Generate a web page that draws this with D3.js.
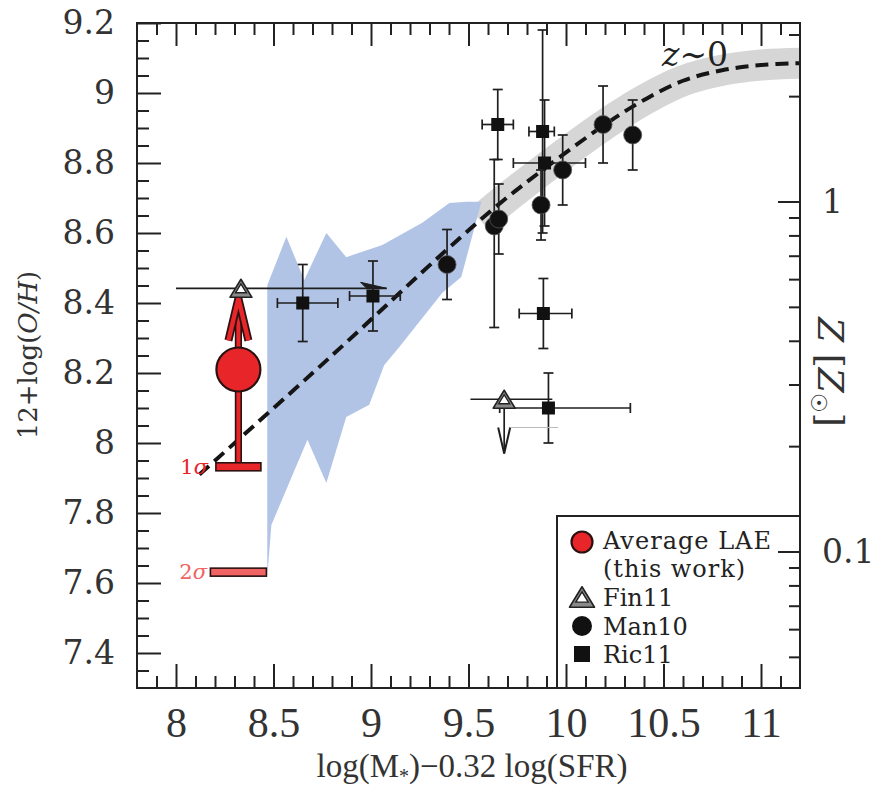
<!DOCTYPE html>
<html><head><meta charset="utf-8">
<script src="https://cdn.jsdelivr.net/npm/d3@7"></script>
<style>body{margin:0;background:#fff}</style>
</head><body>
<script>
// ---------------- data ----------------
const xMajorTicks = [8, 8.5, 9, 9.5, 10, 10.5, 11];
const xTickLabels = ["8", "8.5", "9", "9.5", "10", "10.5", "11"];
const yMajorTicks = [7.4, 7.6, 7.8, 8, 8.2, 8.4, 8.6, 8.8, 9, 9.2];
const yTickLabels = ["7.4", "7.6", "7.8", "8", "8.2", "8.4", "8.6", "8.8", "9", "9.2"];
const zMajorTicks = [0.1, 1];
const zTickLabels = ["0.1", "1"];
const zMinorTicks = [0.05, 0.06, 0.07, 0.08, 0.09, 0.2, 0.3, 0.4, 0.5, 0.6, 0.7, 0.8, 0.9, 2, 3];
const solarOH = 8.69;

// z~0 relation (dashed) and its scatter band (grey)
const z0Curve = [[8.12, 7.91], [8.79, 8.245], [9.39, 8.553], [9.64, 8.675], [9.88, 8.78],
                 [10.2, 8.91], [10.4, 8.98], [10.6, 9.035], [10.8, 9.065], [11.0, 9.08], [11.2, 9.085]];
const z0Band = [[9.56, 8.636], [9.64, 8.675], [9.88, 8.78], [10.2, 8.91], [10.4, 8.98],
                [10.6, 9.035], [10.8, 9.065], [11.0, 9.08], [11.2, 9.085]];
// blue shaded region
const blueRegion = [[8.468, 7.617], [8.468, 8.451], [8.566, 8.589], [8.658, 8.466], [8.771, 8.600],
  [8.873, 8.531], [9.058, 8.566], [9.263, 8.629], [9.402, 8.686], [9.489, 8.689], [9.566, 8.689],
  [9.504, 8.560], [9.463, 8.474], [9.366, 8.429], [9.145, 8.274], [9.068, 8.223], [8.991, 8.109],
  [8.873, 8.074], [8.771, 7.886], [8.674, 8.009], [8.489, 7.766]];

// Man10: [x, y, yLow, yHigh]
const man10 = [[9.39, 8.51, 8.41, 8.61], [9.632, 8.62, 8.33, 8.81], [9.655, 8.64, 8.54, 8.74],
  [9.872, 8.68, 8.58, 8.78], [9.983, 8.78, 8.68, 8.88], [10.19, 8.91, 8.80, 9.02], [10.342, 8.88, 8.78, 8.98]];
// Ric11: [x, y, xLow, xHigh, yLow, yHigh]
const ric11 = [[8.65, 8.40, 8.52, 8.83, 8.29, 8.51], [9.01, 8.42, 8.89, 9.15, 8.32, 8.52],
  [9.65, 8.91, 9.57, 9.73, 8.81, 9.01], [9.88, 8.89, 9.81, 9.94, 8.60, 9.18],
  [9.89, 8.80, 9.73, 10.10, 8.62, 8.98], [9.884, 8.37, 9.76, 10.03, 8.27, 8.47],
  [9.91, 8.10, 9.66, 10.33, 8.00, 8.20]];
// Fin11: [x, y, xLow, xHigh]
const fin11 = [[8.333, 8.442, 8.00, 9.08], [9.683, 8.125, 9.51, 9.93]];
const fin11UpperLimitTo = [null, 7.97];   // downward arrow end
const fin11RightArrow = [true, false];
// Average LAE (this work)
const laeX = 8.32, laeY = 8.21, laeUpper = 8.413, laeSigma1 = 7.932, laeSigma2 = 7.631;

// ---------------- setup ----------------
const W = 874, H = 789;
const L = 137, R = 800, T = 23, B = 688;
const x = d3.scaleLinear([7.8, 11.2], [L, R]);
const y = d3.scaleLinear([7.3, 9.2], [B, T]);
const z = d3.scaleLog([Math.pow(10, 7.3 - solarOH), Math.pow(10, 9.2 - solarOH)], [B, T]);

const svg = d3.select("body").append("svg").attr("width", W).attr("height", H)
  .style("font-family", "'DejaVu Serif', serif");
svg.append("defs").append("clipPath").attr("id", "clip")
  .append("rect").attr("x", L).attr("y", T).attr("width", R - L).attr("height", B - T);
const plot = svg.append("g").attr("clip-path", "url(#clip)");

const line = d3.line().x(d => x(d[0])).y(d => y(d[1]));
const curve = d3.line().x(d => x(d[0])).y(d => y(d[1])).curve(d3.curveCatmullRom.alpha(0.5));

// grey band
plot.append("path").attr("d", curve(z0Band)).attr("fill", "none")
  .attr("stroke", "#d6d6d6").attr("stroke-width", 31).attr("stroke-linecap", "butt");
// blue region
plot.append("path").attr("d", line(blueRegion) + "Z").attr("fill", "#b1c4e6");
// dashed relation
plot.append("path").attr("d", curve(z0Curve)).attr("fill", "none")
  .attr("stroke", "#151515").attr("stroke-width", 4).attr("stroke-dasharray", "13,7");

const ink = "#1e1e1e";
const eb = plot.append("g").attr("stroke", ink).attr("stroke-width", 1.7).attr("fill", "none");
const cap = 5;
function vbar(xx, lo, hi) {
  const px = x(xx);
  eb.append("line").attr("x1", px).attr("x2", px).attr("y1", y(lo)).attr("y2", y(hi));
  eb.append("line").attr("x1", px - cap).attr("x2", px + cap).attr("y1", y(lo)).attr("y2", y(lo));
  eb.append("line").attr("x1", px - cap).attr("x2", px + cap).attr("y1", y(hi)).attr("y2", y(hi));
}
function hbar(yy, lo, hi, caps = true) {
  const py = y(yy);
  eb.append("line").attr("x1", x(lo)).attr("x2", x(hi)).attr("y1", py).attr("y2", py);
  if (caps) {
    eb.append("line").attr("x1", x(lo)).attr("x2", x(lo)).attr("y1", py - cap).attr("y2", py + cap);
    eb.append("line").attr("x1", x(hi)).attr("x2", x(hi)).attr("y1", py - cap).attr("y2", py + cap);
  }
}
man10.forEach(d => vbar(d[0], d[2], d[3]));
ric11.forEach(d => { vbar(d[0], d[4], d[5]); hbar(d[1], d[2], d[3]); });

// Fin11 lines
fin11.forEach((d, i) => {
  hbar(d[1], d[2], d[3], false);
  if (fin11RightArrow[i]) {
    const tx = x(d[3]), ty = y(d[1]);
    plot.append("path").attr("d", `M${tx},${ty} L${tx - 26},${ty - 6} L${tx - 20},${ty} Z`).attr("fill", ink)
      .attr("stroke", ink).attr("stroke-width", 1);
  }
  if (fin11UpperLimitTo[i] != null) {
    const px = x(d[0]), y0 = y(d[1]), y1 = y(fin11UpperLimitTo[i]);
    eb.append("line").attr("x1", px).attr("x2", px).attr("y1", y0).attr("y2", y1);
    eb.append("path").attr("d", `M${px - 6},${y1 - 26} L${px},${y1} L${px + 6},${y1 - 26}`).attr("stroke-width", 2);
    plot.append("line").attr("x1", px + 7).attr("x2", x(9.96)).attr("y1", y1 - 26).attr("y2", y1 - 26)
      .attr("stroke", "#bbb").attr("stroke-width", 1);
  }
});

// Man10 points
plot.append("g").selectAll("circle").data(man10).join("circle")
  .attr("cx", d => x(d[0])).attr("cy", d => y(d[1])).attr("r", 9).attr("fill", "#111")
  .attr("stroke", "#555").attr("stroke-width", 0.8);
// Ric11 points
plot.append("g").selectAll("rect").data(ric11).join("rect")
  .attr("x", d => x(d[0]) - 6.5).attr("y", d => y(d[1]) - 6.5).attr("width", 13).attr("height", 13)
  .attr("fill", "#111");

// Fin11 triangles
function tri(g, cx, cy, s) {
  const h = s * 0.82;
  const p = (k) => `M${cx - s / 2 * k},${cy + h / 2 * k} L${cx},${cy - h / 2 * k} L${cx + s / 2 * k},${cy + h / 2 * k} Z`;
  g.append("path").attr("d", p(1)).attr("fill", "#8a8a8a").attr("stroke", "#222").attr("stroke-width", 1.6)
    .attr("stroke-linejoin", "round");
  g.append("path").attr("d", p(0.5)).attr("fill", "#fff").attr("stroke", "#222").attr("stroke-width", 1.4);
}
fin11.forEach(d => tri(plot, x(d[0]), y(d[1]), 22));

// Average LAE construct
const red = "#e8262a", dark = "#2a1212";
const lx = x(laeX);
const lae = plot.append("g").attr("stroke", dark).attr("stroke-width", 1.6);
lae.append("rect").attr("x", lx - 2.8).attr("y", y(laeY)).attr("width", 5.6).attr("height", y(laeSigma1) - y(laeY)).attr("fill", red);
lae.append("rect").attr("x", lx - 2.8).attr("y", y(laeUpper) + 4).attr("width", 5.6).attr("height", y(laeY) - y(laeUpper) - 4).attr("fill", red);
lae.append("rect").attr("x", lx - 22.5).attr("y", y(laeSigma1) - 4).attr("width", 45).attr("height", 8).attr("fill", red);
lae.append("rect").attr("x", lx - 28).attr("y", y(laeSigma2) - 4).attr("width", 56).attr("height", 8).attr("fill", "#f06464");
const tipY = y(laeUpper);
lae.append("path").attr("d", `M${lx - 10},${tipY + 42} L${lx},${tipY} L${lx + 10},${tipY + 42}`)
  .attr("fill", "none").attr("stroke", dark).attr("stroke-width", 8).attr("stroke-linejoin", "miter");
lae.append("path").attr("d", `M${lx - 10},${tipY + 42} L${lx},${tipY} L${lx + 10},${tipY + 42}`)
  .attr("fill", "none").attr("stroke", red).attr("stroke-width", 4.5).attr("stroke-linejoin", "miter");
lae.append("circle").attr("cx", lx).attr("cy", y(laeY)).attr("r", 22).attr("fill", red).attr("stroke-width", 2.2);

svg.append("text").attr("x", 208).attr("y", y(laeSigma1) + 7).attr("text-anchor", "end")
  .attr("fill", red).attr("font-size", 21).html("1<tspan font-style='italic'>σ</tspan>");
svg.append("text").attr("x", 207).attr("y", y(laeSigma2) + 7).attr("text-anchor", "end")
  .attr("fill", "#f06464").attr("font-size", 21).html("2<tspan font-style='italic'>σ</tspan>");

// z~0 label
svg.append("text").attr("x", 662).attr("y", 66).attr("font-size", 33).attr("fill", "#222")
  .html("<tspan font-style='italic'>z</tspan>∼0");

// ---------------- legend ----------------
const lg = svg.append("g");
lg.append("rect").attr("x", 557).attr("y", 516).attr("width", R - 557).attr("height", B - 516)
  .attr("fill", "#fff").attr("stroke", "#222").attr("stroke-width", 2);
lg.append("circle").attr("cx", 582).attr("cy", 542).attr("r", 10.5).attr("fill", red).attr("stroke", dark).attr("stroke-width", 2.2);
tri(lg, 582, 597, 25);
lg.append("circle").attr("cx", 582).attr("cy", 626).attr("r", 10).attr("fill", "#111");
lg.append("rect").attr("x", 574).attr("y", 646).attr("width", 16).attr("height", 16).attr("fill", "#111");
const lt = lg.append("g").attr("font-size", 24).attr("fill", "#222");
lt.append("text").attr("x", 603).attr("y", 549).attr("textLength", 168).text("Average LAE");
lt.append("text").attr("x", 603).attr("y", 577).attr("textLength", 142).text("(this work)");
lt.append("text").attr("x", 603).attr("y", 606).text("Fin11");
lt.append("text").attr("x", 603).attr("y", 635).text("Man10");
lt.append("text").attr("x", 603).attr("y", 663).text("Ric11");

// ---------------- axes ----------------
function styleAxis(g, fs, fam) {
  g.select(".domain").remove();
  g.selectAll(".tick line").attr("stroke", "#222").attr("stroke-width", 2);
  g.selectAll(".tick text").attr("font-size", fs).attr("font-family", fam).attr("fill", "#333");
}
const yMinor = d3.range(7.35, 9.2, 0.05).filter(v => Math.abs(Math.round(v * 5) - v * 5) > 1e-6);
const xMinor = d3.range(7.9, 11.2, 0.1).filter(v => Math.abs(Math.round(v * 2) - v * 2) > 1e-6);

svg.append("g").attr("transform", `translate(${L},0)`)
  .call(d3.axisLeft(y).tickValues(yMajorTicks).tickSize(-24).tickPadding(22)
    .tickFormat((d, i) => yTickLabels[i]))
  .call(g => styleAxis(g, 33, "'DejaVu Serif', serif"));
svg.append("g").attr("transform", `translate(${L},0)`)
  .call(d3.axisLeft(y).tickValues(yMinor).tickSize(-12).tickFormat(""))
  .call(g => styleAxis(g, 10, "serif"));

svg.append("g").attr("transform", `translate(0,${B})`)
  .call(d3.axisBottom(x).tickValues(xMajorTicks).tickSize(-24).tickPadding(19)
    .tickFormat((d, i) => xTickLabels[i]))
  .call(g => styleAxis(g, 42, "'Liberation Serif', serif"));
svg.append("g").attr("transform", `translate(0,${B})`)
  .call(d3.axisBottom(x).tickValues(xMinor).tickSize(-12).tickFormat(""))
  .call(g => styleAxis(g, 10, "serif"));
svg.append("g").attr("transform", `translate(0,${T})`)
  .call(d3.axisTop(x).tickValues(xMajorTicks).tickSize(-23).tickFormat(""))
  .call(g => styleAxis(g, 10, "serif"));
svg.append("g").attr("transform", `translate(0,${T})`)
  .call(d3.axisTop(x).tickValues(xMinor).tickSize(-12).tickFormat(""))
  .call(g => styleAxis(g, 10, "serif"));

svg.append("g").attr("transform", `translate(${R},0)`)
  .call(d3.axisRight(z).tickValues(zMajorTicks).tickSize(-22).tickPadding(22)
    .tickFormat((d, i) => zTickLabels[i]))
  .call(g => styleAxis(g, 33, "'DejaVu Serif', serif"));
svg.append("g").attr("transform", `translate(${R},0)`)
  .call(d3.axisRight(z).tickValues(zMinorTicks).tickSize(-11).tickFormat(""))
  .call(g => styleAxis(g, 10, "serif"));

// frame
svg.append("rect").attr("x", L).attr("y", T).attr("width", R - L).attr("height", B - T)
  .attr("fill", "none").attr("stroke", "#222").attr("stroke-width", 2);

// axis titles
svg.append("text").attr("x", 472).attr("y", 777).attr("text-anchor", "middle")
  .attr("font-family", "'Liberation Serif', serif").attr("font-size", 33).attr("fill", "#333")
  .html("log(M<tspan font-size='20' dy='6'>*</tspan><tspan dy='-6'>)−0.32 log(SFR)</tspan>");
svg.append("text").attr("transform", "translate(37,355) rotate(-90)").attr("text-anchor", "middle")
  .attr("font-size", 26).attr("fill", "#333")
  .html("12+log(<tspan font-style='italic'>O/H</tspan>)");
svg.append("text").attr("transform", "translate(818,372) rotate(90)").attr("text-anchor", "middle")
  .attr("font-size", 36).attr("fill", "#333")
  .html("<tspan font-style='italic'>Z</tspan> [<tspan font-style='italic'>Z</tspan><tspan font-size='22' dy='7'>☉</tspan><tspan dy='-7'>]</tspan>");
</script>
</body></html>
